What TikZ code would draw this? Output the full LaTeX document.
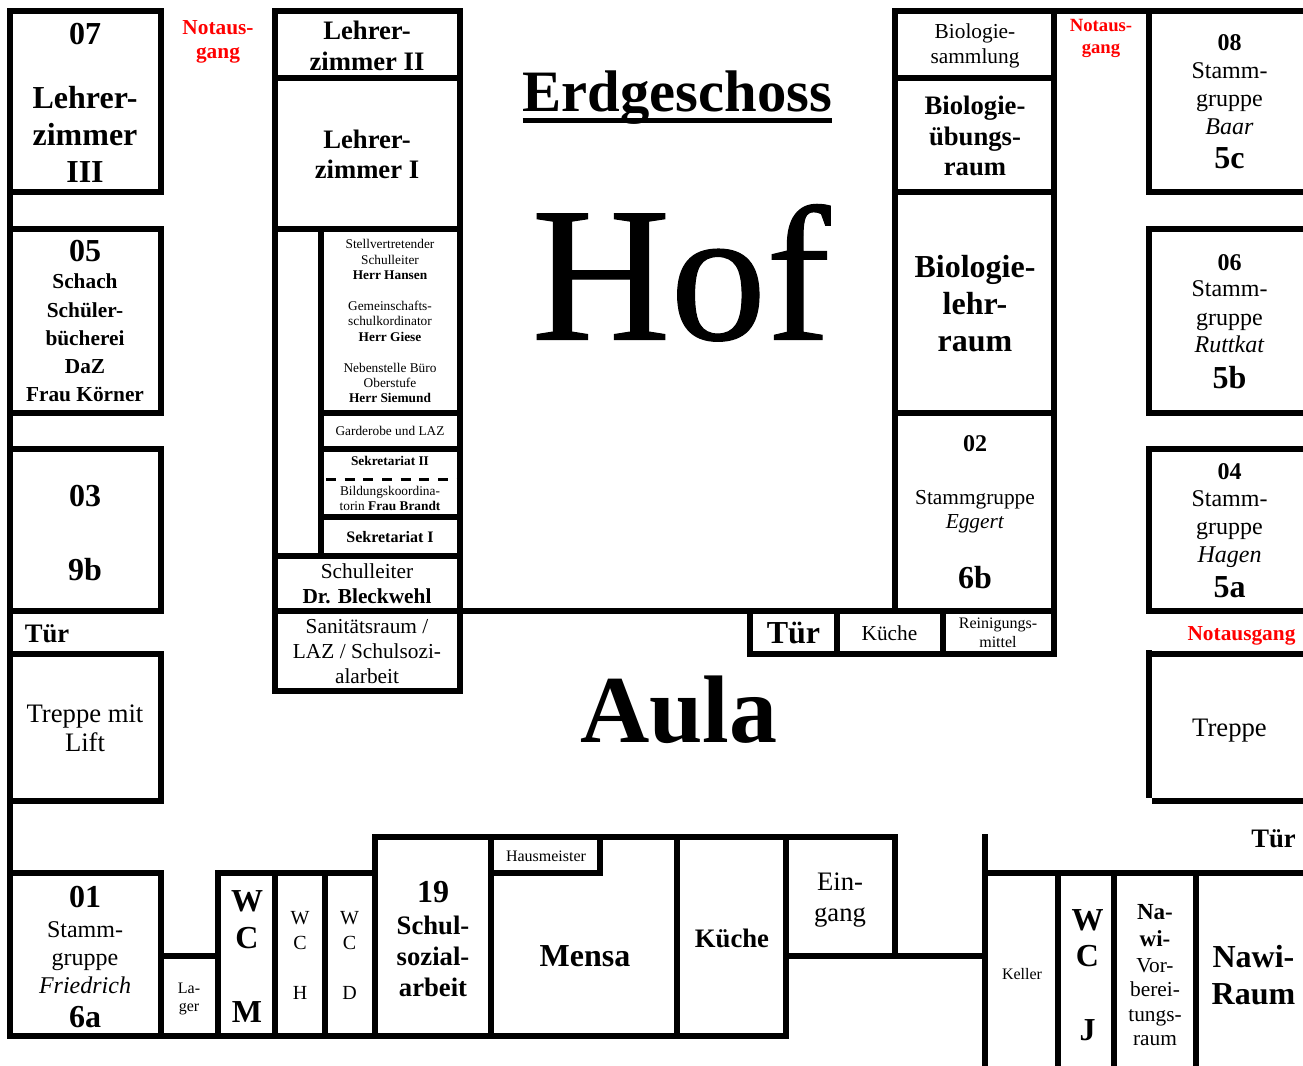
\documentclass[tikz,border=0pt]{standalone}
\usepackage{fontspec}
\usepackage{array}
\setmainfont{Liberation Serif}
\newfontfamily\hoffont[FakeBold=0.6]{Liberation Serif}
\newcommand\fz[2]{\fontsize{\fpeval{#1*.75}}{\fpeval{#2*.75}}\selectfont}
% name, x, y of first baseline, size, leading, font, rows
\newcommand\lbl[7]{\node[lbltext] (#1) at (#2,#3) {\fz{#4}{#5}\begin{tabular}[t]{@{}>{#6}c@{}}#7\end{tabular}};}
\tikzset{
  lbltext/.style={anchor=base,inner sep=0pt,outer sep=0pt},
  wall/.style={line width=4.5pt,line cap=rect,miter limit=10,black},
  wallbutt/.style={line width=4.5pt,line cap=butt,black},
  partition/.style={line width=2.25pt,dash pattern=on 7.5pt off 6.5pt,black}
}
\definecolor{exitred}{RGB}{255,0,0}
\begin{document}
\begin{tikzpicture}[x=.75pt,y=-.75pt]
\clip (0,0) rectangle (1303,1066);
\fill[white] (0,0) rectangle (1303,1066);
% ---- left column
\draw[wall] (10,11) -- (10,1036);
\draw[wall] (10,11) -- (161,11) -- (161,192) -- (10,192);
\draw[wall] (10,229) -- (161,229) -- (161,413) -- (10,413);
\draw[wall] (10,449) -- (161,449) -- (161,611) -- (10,611);
\draw[wall] (10,654) -- (161,654) -- (161,801) -- (10,801);
% ---- centre-left block
\draw[wall] (275,11) -- (460,11) -- (460,691) -- (275,691) -- cycle;
\draw[wall] (275,78) -- (460,78);
\draw[wall] (275,229) -- (460,229);
\draw[wall] (321,229) -- (321,556);
\draw[wall] (321,413) -- (460,413);
\draw[wall] (321,449) -- (460,449);
\draw[wall] (321,517) -- (460,517);
\draw[wall] (275,556) -- (460,556);
\draw[partition] (326,479) -- (459,479);
\draw[wall] (275,611) -- (1054,611);
% ---- biology block
\draw[wall] (895,611) -- (895,11) -- (1303,11);
\draw[wall] (1054,11) -- (1054,654) -- (750,654) -- (750,611);
\draw[wall] (837,611) -- (837,654);
\draw[wall] (943,611) -- (943,654);
\draw[wall] (895,78) -- (1054,78);
\draw[wall] (895,192) -- (1054,192);
\draw[wall] (895,413) -- (1054,413);
% ---- right column
\draw[wall] (1149,11) -- (1149,192) -- (1303,192);
\draw[wall] (1303,229) -- (1149,229) -- (1149,413) -- (1303,413);
\draw[wall] (1303,449) -- (1149,449) -- (1149,611) -- (1303,611);
\draw[wall] (1149,654) -- (1303,654);
\draw[wallbutt] (1149,650) -- (1149,798);
\draw[wallbutt] (1152,801) -- (1303,801);
% ---- bottom wing
\draw[wall] (10,873) -- (161,873);
\draw[wall] (161,873) -- (161,1036);
\draw[wall] (161,956) -- (218,956);
\draw[wall] (218,1036) -- (218,873) -- (375,873);
\draw[wall] (275,873) -- (275,1036);
\draw[wall] (325,873) -- (325,1036);
\draw[wall] (375,1036) -- (375,837) -- (895,837) -- (895,956);
\draw[wall] (491,837) -- (491,1036);
\draw[wall] (491,873) -- (600,873) -- (600,837);
\draw[wall] (677,837) -- (677,1036);
\draw[wall] (786,837) -- (786,1036);
\draw[wall] (786,956) -- (985,956);
\draw[wall] (10,1036) -- (786,1036);
\draw[wall] (985,837) -- (985,1070);
\draw[wall] (985,873) -- (1303,873);
\draw[wall] (1058,873) -- (1058,1070);
\draw[wall] (1114,873) -- (1114,1070);
\draw[wall] (1196,873) -- (1196,1070);
% ---- titles
\lbl{titleErd}{677.5}{112}{58.67}{60}{\bfseries}{Erdgeschoss}
\draw[line width=3.75pt] ([yshift=-6.6pt]titleErd.base west) -- ([yshift=-6.6pt]titleErd.base east);
\lbl{titleHof}{681}{339.5}{192}{200}{\hoffont}{Hof}
\lbl{titleAula}{679}{742}{96}{100}{\bfseries}{Aula}
% ---- left column texts
\lbl{n07}{85}{45}{32}{37}{\bfseries}{07}
\lbl{t07}{85}{109}{32}{37}{\bfseries}{Lehrer-\\zimmer\\III}
\lbl{exitA}{218}{35}{21.33}{24}{\bfseries\color{exitred}}{Notaus-\\gang}
\lbl{n05}{85}{262}{32}{37}{\bfseries}{05}
\lbl{t05}{85}{289}{21.33}{28.2}{\bfseries}{Schach\\Schüler-\\bücherei\\DaZ\\Frau Körner}
\lbl{n03a}{85}{506}{32}{37}{\bfseries}{03}
\lbl{n03b}{85}{580}{32}{37}{\bfseries}{9b}
\lbl{doorL}{47}{642}{26.67}{30}{\bfseries}{Tür}
\lbl{stairL}{85}{722}{26.67}{29.5}{}{Treppe mit\\Lift}
% ---- centre-left texts
\lbl{lz2}{367}{40}{26.67}{31}{\bfseries}{Lehrer-\\zimmer II}
\lbl{lz1}{367}{148.5}{26.67}{30}{\bfseries}{Lehrer-\\zimmer I}
\lbl{stell}{390}{249}{13.33}{15.4}{}{Stellvertretender\\Schulleiter\\\textbf{Herr Hansen}\\ \\Gemeinschafts-\\schulkordinator\\\textbf{Herr Giese}\\ \\Nebenstelle Büro\\Oberstufe\\\textbf{Herr Siemund}}
\lbl{gard}{390}{435}{13.33}{15}{}{Garderobe und LAZ}
\lbl{sek2}{390}{465}{13.33}{15}{\bfseries}{Sekretariat II}
\lbl{bild}{390}{495}{13.33}{15}{}{Bildungskoordina-\\torin \textbf{Frau Brandt}}
\lbl{sek1}{390}{542}{16}{18}{\bfseries}{Sekretariat I}
\lbl{schulleiter}{367}{578}{21.33}{25}{}{Schulleiter\\\textbf{Dr. Bleckwehl}}
\lbl{sani}{367}{633}{21.33}{25}{}{Sanitätsraum /\\LAZ / Schulsozi-\\alarbeit}
% ---- biology texts
\lbl{biosam}{975}{39}{21.33}{25}{}{Biologie-\\sammlung}
\lbl{bioueb}{975}{115}{26.67}{30.5}{\bfseries}{Biologie-\\übungs-\\raum}
\lbl{biolehr}{975}{278}{32}{36.7}{\bfseries}{Biologie-\\lehr-\\raum}
\lbl{n02}{975}{451}{24}{28}{\bfseries}{02}
\lbl{t02}{975}{504}{21.33}{24}{}{Stammgruppe\\\textit{Eggert}}
\lbl{c6b}{975}{588}{32}{37}{\bfseries}{6b}
\lbl{doorM}{793.5}{643.5}{32}{37}{\bfseries}{Tür}
\lbl{kueche}{889.5}{640}{21.33}{25}{}{Küche}
\lbl{rein}{998}{628}{16}{19}{}{Reinigungs-\\mittel}
\lbl{exitB}{1101}{32}{18.67}{22}{\bfseries\color{exitred}}{Notaus-\\gang}
% ---- right column texts
\lbl{n08}{1229.5}{51}{24}{28}{\bfseries}{08}
\lbl{t08}{1229.5}{79}{24}{27.7}{}{Stamm-\\gruppe\\\textit{Baar}}
\lbl{c5c}{1229.5}{169}{32}{37}{\bfseries}{5c}
\lbl{n06}{1229.5}{271}{24}{28}{\bfseries}{06}
\lbl{t06}{1229.5}{297}{24}{28}{}{Stamm-\\gruppe\\\textit{Ruttkat}}
\lbl{c5b}{1229.5}{388}{32}{37}{\bfseries}{5b}
\lbl{n04}{1229.5}{479}{24}{28}{\bfseries}{04}
\lbl{t04}{1229.5}{506}{24}{28}{}{Stamm-\\gruppe\\\textit{Hagen}}
\lbl{c5a}{1229.5}{597}{32}{37}{\bfseries}{5a}
\lbl{exitC}{1241.5}{640}{21.33}{25}{\bfseries\color{exitred}}{Notausgang}
\lbl{stairR}{1229.5}{736}{26.67}{30}{}{Treppe}
\lbl{doorR}{1273.5}{847}{26.67}{30}{\bfseries}{Tür}
% ---- bottom wing texts
\lbl{n01}{85}{907}{32}{37}{\bfseries}{01}
\lbl{t01}{85}{937}{24}{28}{}{Stamm-\\gruppe\\\textit{Friedrich}}
\lbl{c6a}{85}{1027}{32}{37}{\bfseries}{6a}
\lbl{lager}{189}{993}{16}{18}{}{La-\\ger}
\lbl{wcm}{247}{911}{32}{37}{\bfseries}{W\\C\\ \\M}
\lbl{wch}{300}{924}{20}{25}{}{W\\C\\ \\H}
\lbl{wcd}{349.5}{924}{20}{25}{}{W\\C\\ \\D}
\lbl{n19}{433}{902}{32}{37}{\bfseries}{19}
\lbl{t19}{433}{934}{26.67}{31}{\bfseries}{Schul-\\sozial-\\arbeit}
\lbl{haus}{546}{861}{16}{18}{}{Hausmeister}
\lbl{mensa}{585}{966}{32}{37}{\bfseries}{Mensa}
\lbl{kueche2}{732}{947}{26.67}{30}{\bfseries}{Küche}
\lbl{eingang}{840}{890}{26.67}{31}{}{Ein-\\gang}
\lbl{keller}{1022}{979}{16}{18}{}{Keller}
\lbl{wcj}{1087.5}{930}{32}{36.7}{\bfseries}{W\\C\\ \\J}
\lbl{nawiv}{1155}{919}{23}{27.5}{\bfseries}{Na-\\wi-}
\lbl{vorb}{1155}{972}{21.33}{24.5}{}{Vor-\\berei-\\tungs-\\raum}
\lbl{nawi}{1253.5}{967}{32}{37}{\bfseries}{Nawi-\\Raum}
\end{tikzpicture}
\end{document}
